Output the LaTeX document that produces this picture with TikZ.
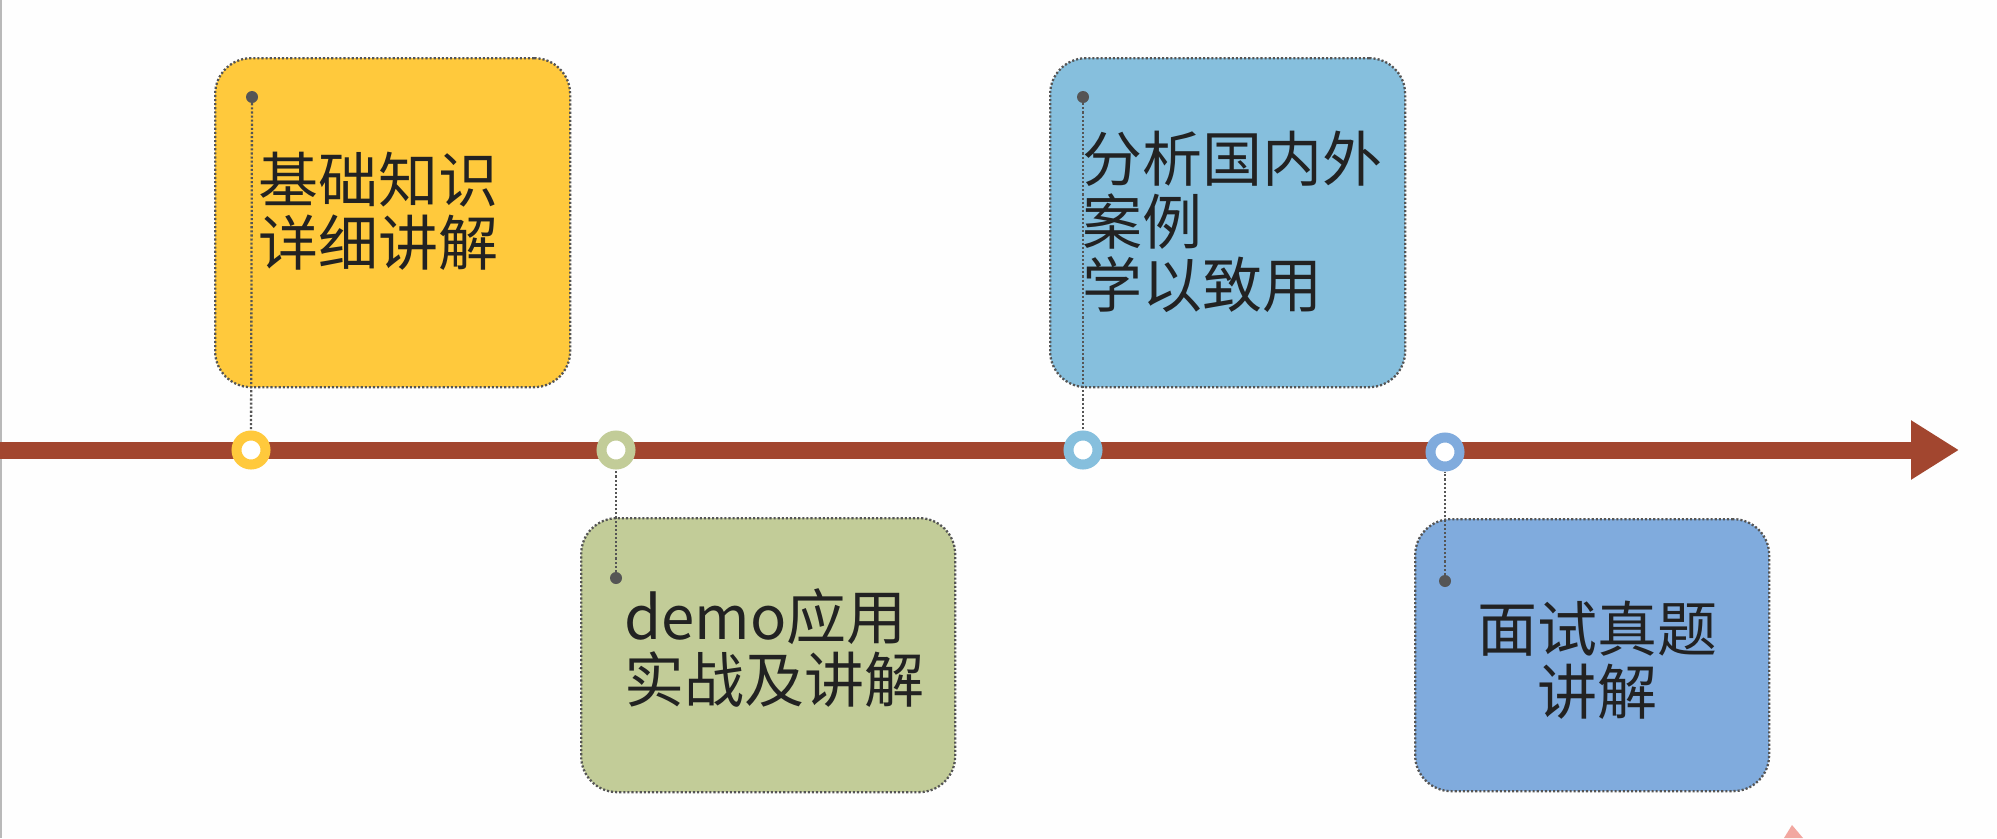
\documentclass[tikz,border=0pt]{standalone}
\usepackage{fontspec}
\setmainfont{Noto Sans CJK SC}
\usetikzlibrary{arrows.meta}
\definecolor{axiscol}{HTML}{A2462F}
\definecolor{cyellow}{HTML}{FFC93C}
\definecolor{cgreen}{HTML}{C2CC98}
\definecolor{cblue}{HTML}{86BFDD}
\definecolor{clblue}{HTML}{80ABDD}
\definecolor{dotgray}{HTML}{555555}
\definecolor{txtcol}{HTML}{222222}
\definecolor{bgcol}{HTML}{FEFEFE}
\definecolor{pinkish}{HTML}{F2A7A0}
\tikzset{
  card/.style={rectangle, rounded corners=36pt, draw=dotgray, line width=2.3pt,
    dash pattern=on 2.1pt off 2.0pt, anchor=north west, inner sep=0pt},
  ring/.style={circle, draw=#1, line width=10pt, fill=white, minimum size=29pt, inner sep=0pt},
  pin/.style={circle, fill=dotgray, minimum size=12pt, inner sep=0pt},
  conn/.style={draw=dotgray, line width=2.3pt, dash pattern=on 2.1pt off 2.0pt},
  axisline/.style={draw=axiscol, line width=17pt, -{Triangle[length=48pt,width=56pt]}},
  label/.style={font=\fontsize{60}{63}\selectfont, text=txtcol, inner sep=0pt, outer sep=0pt}
}
\begin{document}
\begin{tikzpicture}[x=1pt,y=-1pt]
\fill[bgcol] (0,0) rectangle (1997,838);
\useasboundingbox (0,0) rectangle (1997,838);
\draw[gray!55, line width=1.5pt] (0.75,0) -- (0.75,838);
% axis
\coordinate (axs) at (0,450);
\coordinate (axe) at (1959,450);
\draw[axisline] (axs) -- (axe);
% cards
\node[card, fill=cyellow, minimum width=355pt, minimum height=329pt] (b1) at (214,57) {};
\node[card, fill=cgreen, minimum width=374pt, minimum height=274pt] (b2) at (580,517) {};
\node[card, fill=cblue, minimum width=355pt, minimum height=329pt] (b3) at (1049,57) {};
\node[card, fill=clblue, minimum width=354pt, minimum height=272pt] (b4) at (1414,518) {};
% rings on axis
\node[ring=cyellow] (c1) at (251,450) {};
\node[ring=cgreen] (c2) at (616,450) {};
\node[ring=cblue] (c3) at (1083,450) {};
\node[ring=clblue] (c4) at (1445,452) {};
% pins
\node[pin] (d1) at (252,97) {};
\node[pin] (d2) at (616,578) {};
\node[pin] (d3) at (1083,97) {};
\node[pin] (d4) at (1445,581) {};
% connectors
\draw[conn] (d1) -- (c1);
\draw[conn] (d2) -- (c2);
\draw[conn] (d3) -- (c3);
\draw[conn] (d4) -- (c4);
% texts
\node[label, anchor=north west, align=left] (t1) at (258,152) {基础知识\\详细讲解};
\node[label, anchor=north west, align=left] (t2) at (624,589) {demo应用\\实战及讲解};
\node[label, anchor=north west, align=left] (t3) at (1082,131) {分析国内外\\案例\\学以致用};
\node[label, anchor=north, align=center] (t4) at (1597,601) {面试真题\\讲解};
% small mark at bottom edge
\fill[pinkish] (1792,825) -- (1803,838) -- (1784,838) -- cycle;
\end{tikzpicture}
\end{document}
